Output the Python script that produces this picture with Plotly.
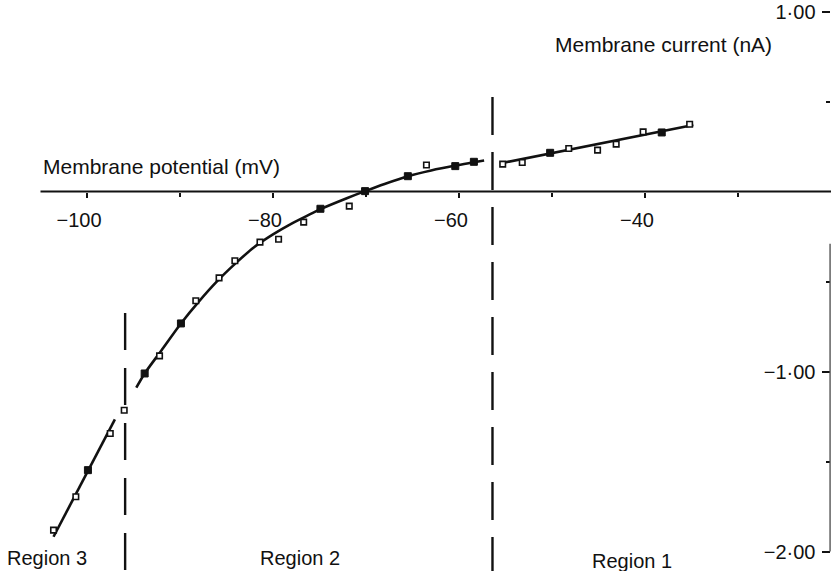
import plotly.graph_objects as go

# ---------------- data ----------------
# open squares: membrane potential (mV), membrane current (nA)
open_v = [-55.3, -53.2, -48.2, -45.1, -43.1, -40.2, -35.2,
          -92.2, -88.3, -85.8, -84.1, -81.4, -79.4, -76.7, -71.8, -63.5,
          -96.0, -97.5, -101.2, -103.6]
open_i = [0.152, 0.161, 0.239, 0.230, 0.263, 0.331, 0.374,
          -0.913, -0.607, -0.480, -0.385, -0.281, -0.265, -0.170, -0.081, 0.147,
          -1.215, -1.344, -1.696, -1.881]

# filled squares
filled_v = [-50.2, -38.2, -93.8, -89.9, -74.9, -70.1, -65.5, -60.4, -58.4, -99.9]
filled_i = [0.215, 0.328, -1.011, -0.733, -0.096, 0.002, 0.085, 0.141, 0.165, -1.548]

# fitted line, region 1
fit1_v = [-55.6, -34.8]
fit1_i = [0.156, 0.369]

# fitted curve, region 2
fit2_v = [-94.7, -93.8, -92.0, -89.9, -88.0, -86.0, -84.0, -82.0, -80.0, -78.0,
          -76.0, -74.9, -72.0, -70.1, -68.0, -65.5, -63.0, -60.4, -58.4, -57.3]
fit2_i = [-1.09, -1.011, -0.883, -0.733, -0.613, -0.498, -0.398, -0.308, -0.238, -0.178,
          -0.126, -0.098, -0.036, 0.002, 0.042, 0.085, 0.117, 0.144, 0.162, 0.172]

# fitted line, region 3
fit3_v = [-97.0, -103.6]
fit3_i = [-1.266, -1.918]

# region boundaries (mV)
boundaries = [-95.9, -56.4]

region_labels = ["Region 3", "Region 2", "Region 1"]

x_tickvals = [-100, -80, -60, -40]
x_ticktext = ["\u2212100", "\u221280", "\u221260", "\u221240"]
x_minor = [-90, -70, -50, -30]

y_tickvals = [1.0, -1.0, -2.0]
y_ticktext = ["1\u00b700", "\u22121\u00b700", "\u22122\u00b700"]
y_minor = [0.5, -0.5, -1.5]

# ---------------- layout geometry ----------------
W, H = 831, 571
X_RANGE = [-109.355, -20.0]
Y_RANGE = [-2.1083, 1.0639]
FONT = "Liberation Sans, Arial, Helvetica, sans-serif"
INK = "#111111"


def px(x, y):
    return x / W, 1 - y / H


fig = go.Figure()

line_style = dict(color=INK, width=2.6)
fig.add_trace(go.Scatter(x=fit1_v, y=fit1_i, mode="lines", line=line_style,
                         hoverinfo="skip", showlegend=False))
fig.add_trace(go.Scatter(x=fit2_v, y=fit2_i, mode="lines",
                         line=dict(color=INK, width=2.6, shape="spline", smoothing=0.8),
                         hoverinfo="skip", showlegend=False))
fig.add_trace(go.Scatter(x=fit3_v, y=fit3_i, mode="lines", line=line_style,
                         hoverinfo="skip", showlegend=False))

fig.add_trace(go.Scatter(x=open_v, y=open_i, mode="markers",
                         marker=dict(symbol="square", size=5.5, color="white",
                                     line=dict(color=INK, width=1.6)),
                         showlegend=False))
fig.add_trace(go.Scatter(x=filled_v, y=filled_i, mode="markers",
                         marker=dict(symbol="square", size=7, color=INK,
                                     line=dict(color=INK, width=1)),
                         showlegend=False))

shapes = []
# x axis line (at zero current)
shapes.append(dict(type="line", xref="x", yref="y", x0=-105.0, x1=X_RANGE[1],
                   y0=0, y1=0, line=dict(color=INK, width=2.2), layer="below"))
# y axis line (right edge)
shapes.append(dict(type="line", xref="x", yref="y", x0=-20.1, x1=-20.1,
                   y0=-0.29, y1=-2.0, line=dict(color="#555555", width=1.4)))
# dashed region boundaries
shapes.append(dict(type="line", xref="x", yref="y", x0=boundaries[0], x1=boundaries[0],
                   y0=-0.675, y1=Y_RANGE[0],
                   line=dict(color=INK, width=2.4, dash="37px,18px")))
shapes.append(dict(type="line", xref="x", yref="y", x0=boundaries[1], x1=boundaries[1],
                   y0=0.525, y1=Y_RANGE[0],
                   line=dict(color=INK, width=2.4, dash="38px,17px")))

annotations = []


def add_text(text, x, y, size=20, xanchor="center"):
    ax, ay = px(x, y)
    annotations.append(dict(text=text, x=ax, y=ay, xref="paper", yref="paper",
                            xanchor=xanchor, yanchor="middle", showarrow=False,
                            font=dict(family=FONT, size=size, color=INK)))


add_text("Membrane potential (mV)", 41, 166, size=21, xanchor="left")
add_text("Membrane current (nA)", 663, 45, size=21)
add_text(region_labels[0], 47, 558)
add_text(region_labels[1], 300, 558)
add_text(region_labels[2], 632, 561)

fig.update_layout(
    width=W, height=H,
    margin=dict(l=0, r=0, t=0, b=0),
    paper_bgcolor="white", plot_bgcolor="white",
    showlegend=False,
    shapes=shapes,
    annotations=annotations,
    xaxis=dict(
        range=X_RANGE, showgrid=False, zeroline=False, showline=False,
        anchor="free", position=(H - 191.5) / H, side="bottom",
        tickmode="array", tickvals=x_tickvals, ticktext=x_ticktext,
        ticks="outside", ticklen=5, tickwidth=2, tickcolor=INK,
        ticklabelshift=-8, ticklabelstandoff=5,
        tickfont=dict(family=FONT, size=20, color=INK),
        minor=dict(tickmode="array", tickvals=x_minor, ticks="outside",
                   ticklen=4, tickwidth=2, tickcolor=INK),
    ),
    yaxis=dict(
        range=Y_RANGE, showgrid=False, zeroline=False, showline=False,
        anchor="free", position=829.5 / W, side="right",
        tickmode="array", tickvals=y_tickvals, ticktext=y_ticktext,
        ticks="inside", ticklen=8, tickwidth=1.6, tickcolor=INK,
        ticklabelposition="inside", ticklabelstandoff=7,
        tickfont=dict(family=FONT, size=20, color=INK),
        minor=dict(tickmode="array", tickvals=y_minor, ticks="inside",
                   ticklen=4, tickwidth=1.6, tickcolor=INK),
    ),
)

fig.write_html("out.html")
